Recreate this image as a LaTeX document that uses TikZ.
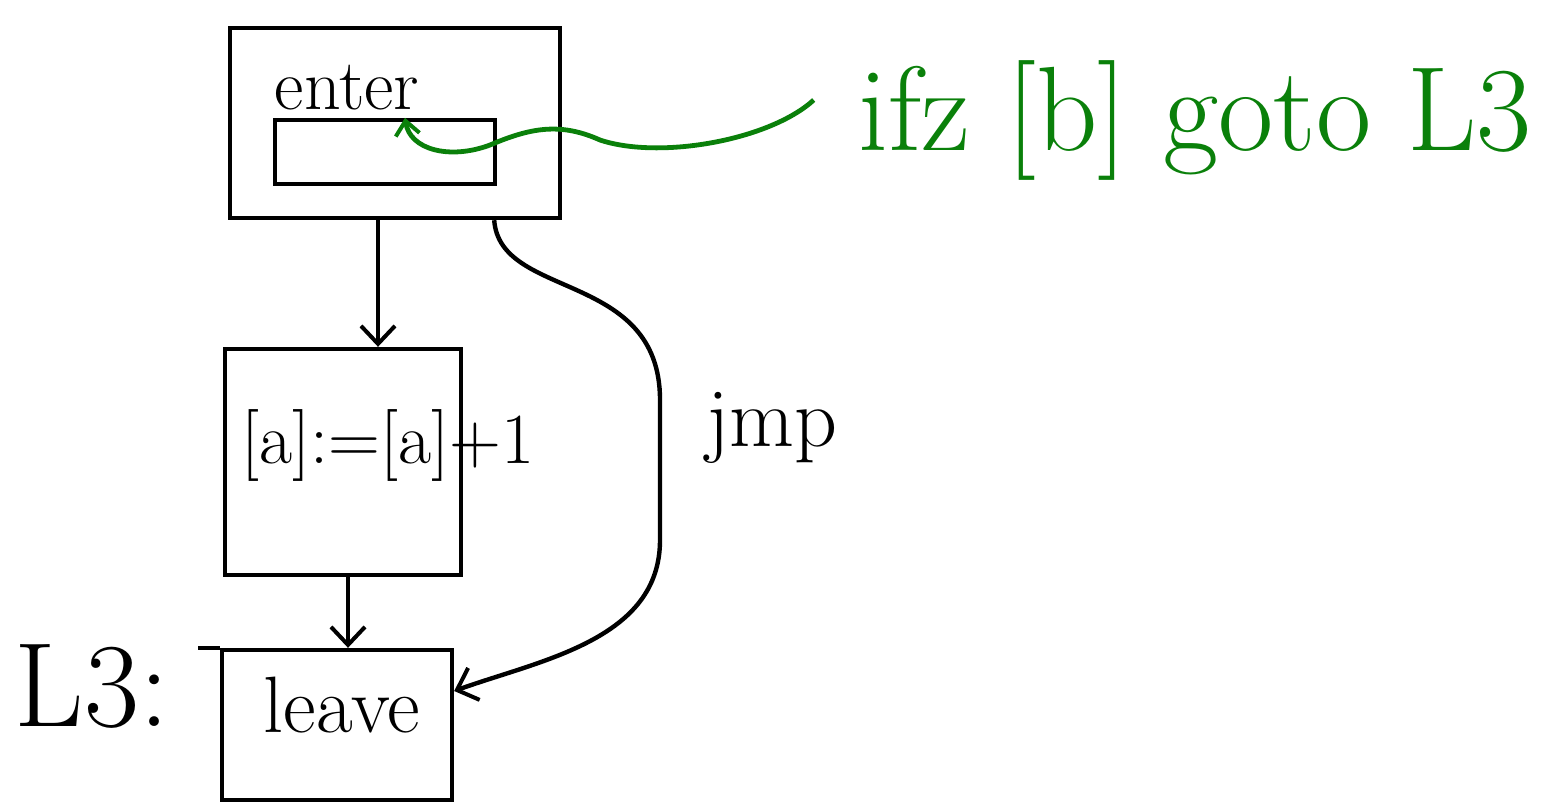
\documentclass[tikz,border=0pt]{standalone}
\usepackage{fontspec}
\usetikzlibrary{arrows.meta,calc}
\definecolor{inkgreen}{RGB}{10,128,10}
\tikzset{
  box/.style={draw=black, line width=2.2pt, rectangle, inner sep=0pt},
  lbl/.style={inner sep=0pt, text=black},
  arr/.style={draw=black, line width=2.2pt, -{Straight Barb[length=9pt,width=17pt,line width=2pt]}},
  garr/.style={draw=inkgreen, line width=2.4pt, -{Straight Barb[length=7pt,width=12pt,line width=2pt]}},
}
\newcommand{\fsz}[1]{\fontsize{#1}{#1}\selectfont}
\begin{document}
\begin{tikzpicture}[x=0.5pt,y=-0.5pt]
\useasboundingbox (0,0) rectangle (1567,805);
% enter block
\node[box, minimum width=165pt, minimum height=95pt] (enter) at (395,123) {};
\node[lbl] (entertxt) at (347,88) {\fsz{36pt}enter};
\node[box, minimum width=110pt, minimum height=32pt] (inner) at (385,152) {};
% middle block
\node[box, minimum width=118pt, minimum height=113pt] (mid) at (343,462) {};
\node[lbl] (midtxt) at (388,445) {\fsz{36pt}[a]:=[a]+1};
% leave block
\node[box, minimum width=115pt, minimum height=75pt] (leave) at (337,725) {};
\node[lbl] (leavetxt) at (342,705) {\fsz{40pt}leave};
\node[lbl] (L3) at (92,686) {\fsz{60pt}L3:};
% labels
\node[lbl] (jmp) at (772,428) {\fsz{42pt}jmp};
\node[lbl, text=inkgreen] (ifz) at (1195,120) {\fsz{60pt}ifz [b] goto L3};
% extended top line of leave
\draw[line width=2.2pt] (leave.north west) -- ++(-11pt,0);
% connectors
\draw[arr] ([xshift=-8.5pt]enter.south) -- ([xshift=-8.5pt]enter.south |- mid.north);
\draw[arr] ([xshift=2.5pt]mid.south) -- ([xshift=2.5pt]mid.south |- leave.north);
\draw[arr] ([xshift=-34pt]enter.south east) .. controls (500,300) and (660,270) .. (660,400)
   -- (660,540) .. controls (660,640) and (540,660) .. ([yshift=17pt]leave.east);
\draw[garr] ([xshift=-22pt,yshift=10pt]ifz.west) .. controls (770,140) and (660,160) .. (600,140)
   .. controls (560,122) and (530,128) .. (490,145) .. controls (450,160) and (410,150) .. ([xshift=10pt]inner.north);
\end{tikzpicture}
\end{document}
